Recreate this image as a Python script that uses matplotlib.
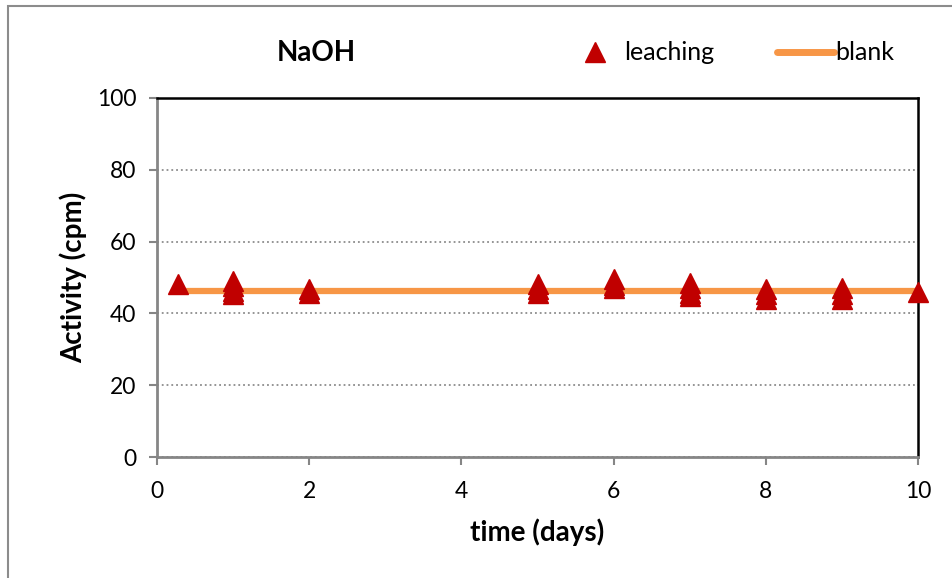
import matplotlib.pyplot as plt
from matplotlib.lines import Line2D
from matplotlib.patches import Rectangle

plt.rcParams['font.family'] = ['Lato', 'DejaVu Sans']

days = [0.28, 1, 1, 1, 1, 2, 2, 5, 5, 5, 6, 6, 6,
        7, 7, 7, 7, 8, 8, 8, 9, 9, 9, 10]
activity = [48.3, 49.0, 47.5, 46.3, 45.4, 46.8, 45.7, 48.2, 46.8, 45.7, 49.6, 48.0, 47.1,
            48.5, 47.0, 45.7, 44.8, 46.8, 45.3, 44.0, 47.1, 45.5, 44.0, 46.0]

blank_days = [0.28, 10]
blank_level = [46.2, 46.2]

yticks = [0, 20, 40, 60, 80, 100]
xticks = [0, 2, 4, 6, 8, 10]

red = '#C00000'
orange = '#F79646'

fig = plt.figure(figsize=(9.53, 5.78), dpi=100)
ax = fig.add_axes([157/953, 1-457/578, (918-157)/953, (457-98)/578])

ax.plot(blank_days, blank_level, color=orange, lw=4.5, zorder=2)
ax.plot(days, activity, '^', color=red, ms=14, mec=red, zorder=3, clip_on=False)

ax.set_xlim(0, 10)
ax.set_ylim(0, 100)
ax.set_xticks(xticks)
ax.set_yticks(yticks)
ax.yaxis.grid(True, ls=':', color='#8c8c8c', lw=1.3)
ax.set_axisbelow(True)

for s in ['left', 'bottom']:
    ax.spines[s].set_color('#868686')
    ax.spines[s].set_linewidth(2)
for s in ['top', 'right']:
    ax.spines[s].set_color('black')
    ax.spines[s].set_linewidth(1.8)

ax.tick_params(direction='out', length=6, width=1.5, color='#868686', labelsize=16.5)
ax.tick_params(axis='x', pad=11)
ax.tick_params(axis='y', pad=9)

ax.set_xlabel('time (days)', fontsize=20, fontweight='bold', labelpad=12)
ax.set_ylabel('Activity (cpm)', fontsize=20, fontweight='bold', labelpad=7)

fig.text(316/953, 1-53/578, 'NaOH', fontsize=20, fontweight='bold',
         ha='center', va='center')

h1 = Line2D([], [], ls='', marker='^', color=red, ms=14)
h2 = Line2D([], [], color=orange, lw=5, solid_capstyle='round')
fig.legend([h1], ['leaching'], loc='center left', bbox_to_anchor=(582/953, 1-53/578),
           frameon=False, fontsize=18, handlelength=1.0, handletextpad=0.7,
           borderpad=0, borderaxespad=0)
fig.legend([h2], ['blank'], loc='center left', bbox_to_anchor=(777/953, 1-53/578),
           frameon=False, fontsize=18, handlelength=2.3, handletextpad=0.05,
           borderpad=0, borderaxespad=0)

# outer chart border
fig.patches.append(Rectangle((8/953, -0.1), 1.2, 1.1 - 6/578, transform=fig.transFigure,
                             fill=False, ec='#8c8c8c', lw=1.5))

fig.savefig('out.png', dpi=100)
